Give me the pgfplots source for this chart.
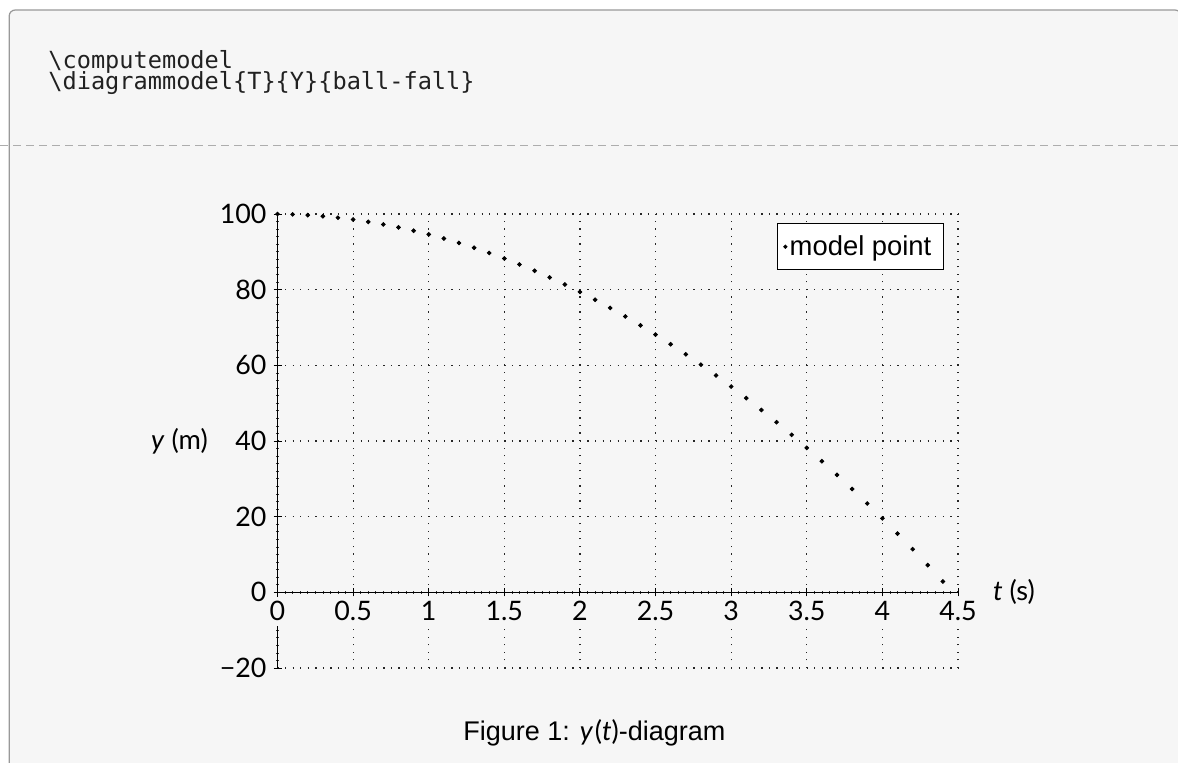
\documentclass[border=0pt]{standalone}
\usepackage{pgfplots}
\pgfplotsset{compat=1.18}
\usepackage{fontspec}
\setmainfont{Lato}
\newfontfamily\arialfont{Liberation Sans}
\newfontfamily\codefont{DejaVu Sans Mono}
\definecolor{boxbg}{HTML}{F6F6F6}
\definecolor{boxborder}{HTML}{999999}
\definecolor{dashcol}{HTML}{ADADAD}
\pgfplotstableread{
t y
0.0 100
0.1 99.902
0.2 99.706
0.3 99.411
0.4 99.019
0.5 98.529
0.6 97.940
0.7 97.253
0.8 96.468
0.9 95.586
1.0 94.605
1.1 93.525
1.2 92.348
1.3 91.073
1.4 89.700
1.5 88.228
1.6 86.658
1.7 84.991
1.8 83.225
1.9 81.361
2.0 79.399
2.1 77.339
2.2 75.181
2.3 72.924
2.4 70.570
2.5 68.118
2.6 65.567
2.7 62.918
2.8 60.171
2.9 57.326
3.0 54.383
3.1 51.342
3.2 48.203
3.3 44.966
3.4 41.630
3.5 38.197
3.6 34.665
3.7 31.036
3.8 27.308
3.9 23.482
4.0 19.558
4.1 15.536
4.2 11.416
4.3 7.197
4.4 2.881
}\modeldata
\begin{document}
\begin{tikzpicture}
\useasboundingbox (0pt,0pt) rectangle (589pt,-381pt);
\fill[white] (0pt,0pt) rectangle (589pt,-381pt);
\begin{scope}
\clip (0pt,0pt) rectangle (589pt,-381pt);
\draw[boxborder, line width=0.6pt, fill=boxbg, rounded corners=3pt] (4.6pt,-5pt) rectangle (590.5pt,-420pt);
\draw[dashcol, line width=0.75pt, dash pattern=on 4pt off 2.5pt] (0pt,-72.8pt) -- (589pt,-72.8pt);
\end{scope}
\node[anchor=base west, inner sep=0pt, font=\codefont\fontsize{11.8}{14}\selectfont, text=black!87] at (24pt,-34.2pt) {\textbackslash computemodel};
\node[anchor=base west, inner sep=0pt, font=\codefont\fontsize{11.8}{14}\selectfont, text=black!87] at (24pt,-44.5pt) {\textbackslash diagrammodel\{T\}\{Y\}\{ball-fall\}};
\node[anchor=base west, inner sep=0pt, font=\arialfont\fontsize{13.5}{16}\selectfont] at (231.5pt,-370.35pt) {Figure 1: {\rmfamily\itshape y\/\upshape\kern0.8pt(\itshape t\/\upshape)}-diagram};
\begin{axis}[
  at={(138.75pt,-334pt)}, anchor=south west,
  scale only axis, width=340.25pt, height=227pt,
  xmin=0, xmax=4.5, ymin=-20, ymax=100,
  axis lines=middle,
  axis line style={-, black, line width=0.6pt},
  clip=false,
  xtick={0,0.5,1,1.5,2,2.5,3,3.5,4,4.5},
  xticklabels={0,0.5,1,1.5,2,2.5,3,3.5,4,4.5},
  ytick={-20,0,20,40,60,80,100},
  yticklabels={−20,0,20,40,60,80,100},
  minor x tick num=9, minor y tick num=9,
  hide obscured x ticks=false, hide obscured y ticks=false,
  tick align=center,
  major tick length=4pt, minor tick length=1.4pt,
  every major tick/.style={black, line width=0.5pt},
  every minor tick/.style={black!80, line width=0.35pt},
  grid=major,
  major grid style={black!85, line width=0.6pt, dash pattern=on 0.6pt off 3.18pt},
  tick label style={font=\fontsize{13.4}{15}\selectfont},
  xticklabel style={fill=boxbg, inner sep=2.4pt, anchor=north},
  yticklabel style={anchor=east},
  every axis x label/.style={at={(axis description cs:1,0.16667)}, anchor=west, xshift=14pt},
  every axis y label/.style={at={(axis description cs:0,0.5)}, anchor=east, xshift=-31.3pt},
  label style={font=\fontsize{13.6}{15}\selectfont},
  xlabel={\textit{t} (s)}, ylabel={\textit{y} (m)},
  legend style={at={(0.98,0.98)}, anchor=north east, draw=black, line width=0.6pt, fill=white,
    font=\arialfont\fontsize{13.7}{16}\selectfont, inner xsep=3pt, inner ysep=3.8pt,
    nodes={inner xsep=1.2pt, inner ysep=2pt}},
  legend image code/.code={\fill (0pt,0pt) circle (0.7pt);},
]
\addplot[only marks, mark=*, mark size=0.95pt, black] table[x=t, y=y] {\modeldata};
\addlegendentry{model point\kern2pt}
\end{axis}
\end{tikzpicture}
\end{document}
